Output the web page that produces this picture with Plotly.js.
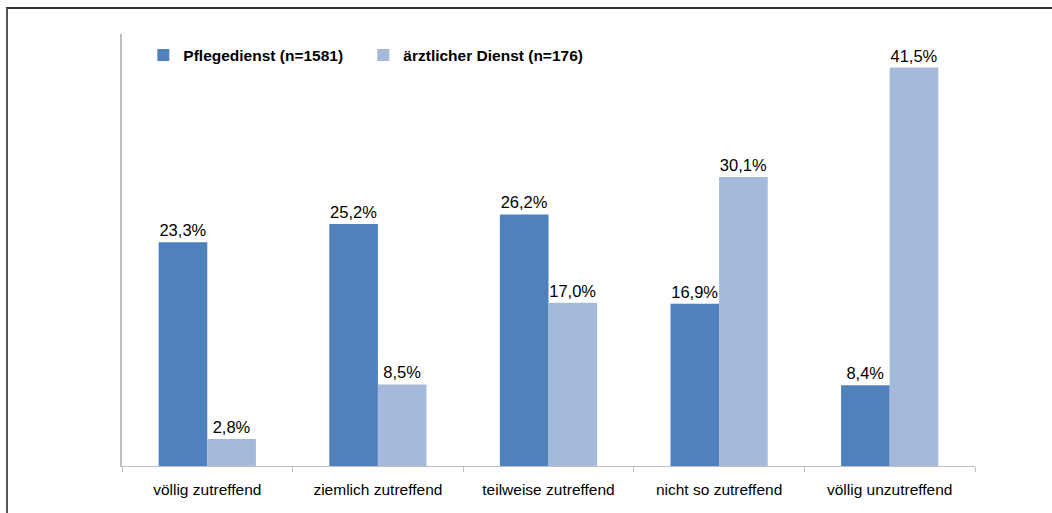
<!DOCTYPE html>
<html><head><meta charset="utf-8">
<script src="https://cdn.plot.ly/plotly-3.0.1.min.js"></script>
<style>
html,body{margin:0;padding:0;background:#fff;}
#wrap{position:relative;width:1052px;height:513px;overflow:hidden;}
#frame{position:absolute;left:6px;top:7px;width:1100px;height:600px;border-top:2px solid #333;border-left:2px solid #555;box-sizing:border-box;pointer-events:none;z-index:5;}
#chart{position:absolute;left:0;top:0;width:1052px;height:513px;}
</style></head>
<body><div id="wrap"><div id="chart"></div><div id="frame"></div></div>
<script>
const categories = ["völlig zutreffend","ziemlich zutreffend","teilweise zutreffend","nicht so zutreffend","völlig unzutreffend"];
const seriesNames = ["Pflegedienst (n=1581)","ärztlicher Dienst (n=176)"];
const pflegedienst = [23.3, 25.2, 26.2, 16.9, 8.4];
const aerztlich = [2.8, 8.5, 17.0, 30.1, 41.5];
const colors = ["#4F81BD","#A5B9DA"];

const fmt = v => v.toFixed(1).replace('.', ',') + '%';
const font = "Liberation Sans, Arial, sans-serif";

const traces = [pflegedienst, aerztlich].map((vals, i) => ({
  type: 'bar', x: categories, y: vals, name: seriesNames[i],
  marker: {color: colors[i]},
  text: vals.map(fmt), textposition: 'outside', cliponaxis: false,
  textfont: {family: font, size: 16.5, color: '#000'},
  hoverinfo: 'none'
}));

const layout = {
  width: 1052, height: 513,
  margin: {l: 122, r: 77, t: 34, b: 47},
  paper_bgcolor: '#fff', plot_bgcolor: '#fff',
  barmode: 'group', bargap: 0.43, bargroupgap: 0,
  showlegend: true,
  legend: {orientation: 'h', x: 0.025, y: 0.99, xanchor: 'left', yanchor: 'top',
    font: {family: font, size: 15.5, color: '#000', weight: 'bold'},
    itemwidth: 30, entrywidth: 175, traceorder: 'normal', bgcolor: 'rgba(0,0,0,0)'},
  xaxis: {type: 'category', showline: true, linecolor: '#BFBFBF', linewidth: 1,
    ticks: 'outside', tickson: 'boundaries', ticklen: 5, tickcolor: '#BFBFBF',
    ticklabelstandoff: 9,
    showgrid: false, zeroline: false,
    tickfont: {family: font, size: 15.5, color: '#000'}},
  yaxis: {range: [0, 45], showline: true, linecolor: '#BFBFBF', linewidth: 2,
    showticklabels: false, ticks: '', showgrid: false, zeroline: false}
};

Plotly.newPlot('chart', traces, layout, {displayModeBar: false, staticPlot: true});
</script></body></html>
